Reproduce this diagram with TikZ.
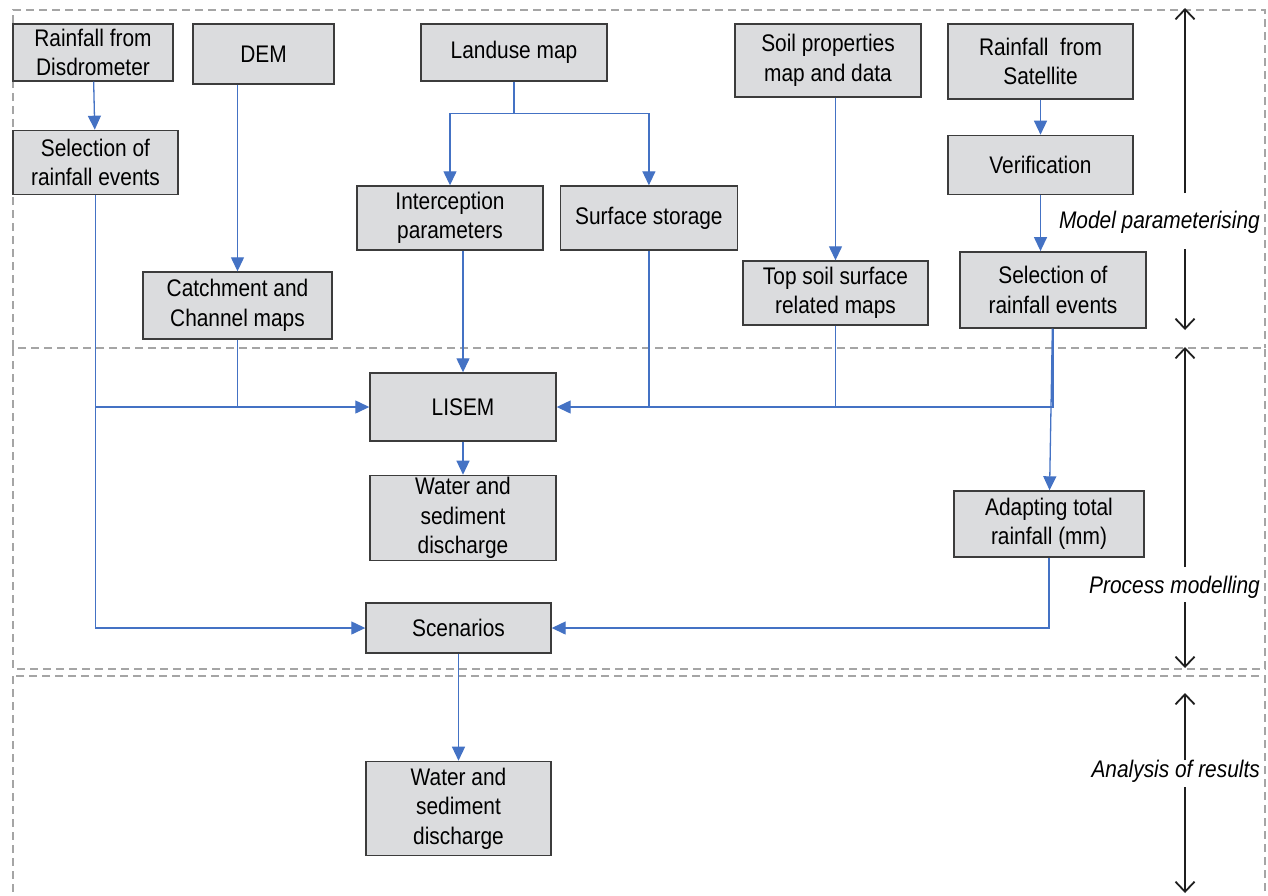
\documentclass[tikz,border=0pt]{standalone}
\usepackage{fontspec}
\setmainfont{Liberation Sans}[FakeStretch=0.87]
\usetikzlibrary{positioning}
\usetikzlibrary{arrows.meta}
\definecolor{boxgray}{HTML}{DBDCDE}
\definecolor{boxedge}{HTML}{3C3C3C}
\definecolor{flowblue}{HTML}{4472C4}
\definecolor{framegray}{HTML}{A5A5A5}

\begin{document}
\begin{tikzpicture}[x=1pt, y=-1pt, ->, >={Triangle[width=13pt,length=14pt]},
  mybox/.style={rectangle, draw=boxedge, fill=boxgray, line width=1.4pt, align=center, inner sep=0pt},
  flow/.style={draw=flowblue, line width=1.3pt},
  frame/.style={-, draw=framegray, line width=1.3pt, dash pattern=on 8pt off 5pt},
  span/.style={draw=black!88, line width=1.8pt, >={Straight Barb[length=10pt,width=19pt]}},
  stage/.style={anchor=east, inner sep=0pt, font=\fontsize{24}{29.5}\selectfont\itshape},
  every node/.style={font=\fontsize{24}{29.5}\selectfont}]

  \useasboundingbox (0,0) rectangle (1268,895);

  % stages
  \draw[frame] (13,348) -- (13,10) -- (1265,10) -- (1265,348);
  \draw[frame] (13,348) rectangle (1265,669);
  \draw[frame] (13,676) rectangle (1265,905);

  \node[mybox, minimum width=160pt, minimum height=57pt] (0) at (93,52.5) {Rainfall from\\Disdrometer};
  \node[mybox, minimum width=141pt, minimum height=60pt] (1) at (263.5,54) {DEM};
  \node[mybox, minimum width=186pt, minimum height=57pt] (2) at (514,52.5) {Landuse map};
  \node[mybox, minimum width=186pt, minimum height=73pt] (3) at (828,60.5) {Soil properties\\map and data};
  \node[mybox, minimum width=185pt, minimum height=75pt] (4) at (1040.5,61.5) {Rainfall~ from\\Satellite};
  \node[mybox, minimum width=165pt, minimum height=64pt] (5) [below=48pt of 0, xshift=2.5pt] {Selection of\\rainfall events};
  \node[mybox, minimum width=185pt, minimum height=59pt] (6) [below=35pt of 4] {Verification};
  \node[mybox, minimum width=186pt, minimum height=64pt] (7) at (450,218) {Interception\\parameters};
  \node[mybox, minimum width=177pt, minimum height=64pt] (8) [right=16pt of 7] {Surface storage};
  \node[mybox, minimum width=189pt, minimum height=67pt] (9) at (237.5,305.5) {Catchment and\\Channel maps};
  \node[mybox, minimum width=185pt, minimum height=64pt] (10) at (835.5,293) {Top soil surface\\related maps};
  \node[mybox, minimum width=186pt, minimum height=76pt] (11) [below=56pt of 6, xshift=12.5pt] {Selection of\\rainfall events};
  \node[mybox, minimum width=186pt, minimum height=68pt] (12) at (463,407) {LISEM};
  \node[mybox, minimum width=186pt, minimum height=85pt] (13) [below=33pt of 12] {Water and\\sediment\\discharge};
  \node[mybox, minimum width=190pt, minimum height=66pt] (14) at (1049,524) {Adapting total\\rainfall (mm)};
  \node[mybox, minimum width=185pt, minimum height=50pt] (15) at (458.5,628) {Scenarios};
  \node[mybox, minimum width=185pt, minimum height=94pt] (16) [below=107pt of 15] {Water and\\sediment\\discharge};

  \path[every edge/.style={draw, flow}]
    (0) edge (5)
    (4) edge (6)
    (12) edge (13)
    (15) edge (16)
    (1.south -| 9.north) edge (9)
    (3.south -| 10.north) edge (10)
    (7.south -| 12.north) edge (12)
    (6) edge (6.south |- 11.north)
    (11) edge (14)
  ;
  \draw[flow] (2.south) -- ++(0,32) -| (7.north);
  \draw[flow] (2.south) -- ++(0,32) -| (8.north);
  \draw[flow] (5.south) |- (15.west);
  \draw[flow] (5.south |- 12.west) -- (12.west);
  \draw[flow, -] (9.south) -- (9.south |- 12.west);
  \draw[flow, -] (8.south) -- (8.south |- 12.west);
  \draw[flow, -] (10.south) -- (10.south |- 12.west);
  \draw[flow] (11.south) |- (12.east);
  \draw[flow] (14.south) |- (15.east);

  % stage labels
  \node[stage] (m) at (1260,222) {Model parameterising};
  \node[stage] (p) at (1260,587) {Process modelling};
  \node[stage] (r) at (1260,771) {Analysis of results};
  \coordinate (m1) at (1185,8);
  \coordinate (m2) at (1185,193);
  \coordinate (m3) at (1185,249);
  \coordinate (m4) at (1185,330);
  \coordinate (p1) at (1185,347);
  \coordinate (p2) at (1185,567);
  \coordinate (p3) at (1185,602);
  \coordinate (p4) at (1185,668);
  \coordinate (r1) at (1185,693);
  \coordinate (r2) at (1185,760);
  \coordinate (r3) at (1185,787);
  \coordinate (r4) at (1185,893);
  \draw[span] (m2) -- (m1);
  \draw[span] (m3) -- (m4);
  \draw[span] (p2) -- (p1);
  \draw[span] (p3) -- (p4);
  \draw[span] (r2) -- (r1);
  \draw[span] (r3) -- (r4);
\end{tikzpicture}
\end{document}
